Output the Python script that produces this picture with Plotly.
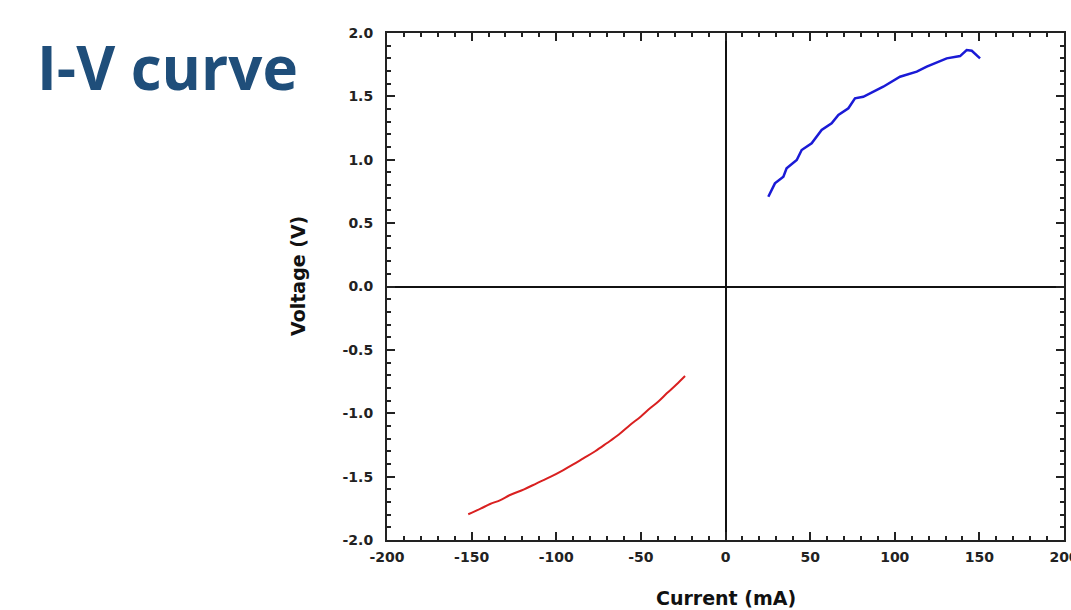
import plotly.graph_objects as go

# Data
pos_current = [25.3, 29.2, 34.2, 36.1, 42.1, 45.0, 50.9, 56.8, 62.7, 66.7, 72.6, 76.5, 81.4,
               93.2, 103.1, 113.0, 118.9, 130.7, 138.6, 142.5, 145.5, 150.4]
pos_voltage = [0.708, 0.814, 0.866, 0.932, 0.998, 1.077, 1.13, 1.235, 1.288, 1.353, 1.406, 1.485, 1.497,
               1.576, 1.655, 1.695, 1.734, 1.80, 1.818, 1.866, 1.86, 1.80]

neg_current = [-152.0, -145.0, -139.1, -133.0, -127.3, -119.0, -111.6, -103.5, -95.8, -90.0,
               -84.0, -77.0, -70.2, -63.0, -56.4, -50.0, -44.6, -39.5, -34.7, -29.0, -23.9]
neg_voltage = [-1.797, -1.755, -1.716, -1.685, -1.645, -1.600, -1.553, -1.502, -1.448, -1.404,
               -1.356, -1.300, -1.237, -1.168, -1.093, -1.025, -0.961, -0.905, -0.843, -0.773, -0.706]

x_tickvals = [-200, -150, -100, -50, 0, 50, 100, 150, 200]
x_ticktext = ["-200", "-150", "-100", "-50", "0", "50", "100", "150", "200"]
y_tickvals = [-2.0, -1.5, -1.0, -0.5, 0.0, 0.5, 1.0, 1.5, 2.0]
y_ticktext = ["-2.0", "-1.5", "-1.0", "-0.5", "0.0", "0.5", "1.0", "1.5", "2.0"]

fig = go.Figure()
fig.add_trace(go.Scatter(x=pos_current, y=pos_voltage, mode="lines",
                         line=dict(color="#1a1ad6", width=2.5), showlegend=False))
fig.add_trace(go.Scatter(x=neg_current, y=neg_voltage, mode="lines", line_shape="spline",
                         line=dict(color="#d92020", width=2), showlegend=False))

tickfont = dict(family="DejaVu Sans", size=14, color="#222222")

fig.update_xaxes(range=[-200, 200], tickvals=x_tickvals,
                 ticktext=["<b>%s</b>" % t for t in x_ticktext],
                 ticks="inside", ticklen=8, tickwidth=2, tickcolor="#222",
                 minor=dict(ticks="inside", dtick=10, ticklen=4, tickwidth=1.5, tickcolor="#222"),
                 showline=True, linecolor="#222", linewidth=2, mirror="allticks",
                 showgrid=False, zeroline=True, zerolinecolor="#111", zerolinewidth=2,
                 tickfont=tickfont, ticklabeloverflow="allow", ticklabelstandoff=3,
                 automargin=False, fixedrange=True)
fig.update_yaxes(range=[-2.0, 2.0], tickvals=y_tickvals,
                 ticktext=["<b>%s</b>" % t for t in y_ticktext],
                 ticks="inside", ticklen=8, tickwidth=2, tickcolor="#222",
                 minor=dict(ticks="inside", dtick=0.1, ticklen=4, tickwidth=1.5, tickcolor="#222"),
                 showline=True, linecolor="#222", linewidth=2, mirror="allticks",
                 showgrid=False, zeroline=True, zerolinecolor="#111", zerolinewidth=2,
                 tickfont=tickfont, ticklabelstandoff=9, automargin=False, fixedrange=True)

fig.update_layout(
    width=1071, height=610,
    margin=dict(l=387, r=7, t=33, b=70, autoexpand=False),
    paper_bgcolor="white", plot_bgcolor="white",
    annotations=[
        dict(text="<b>I-V curve</b>", xref="paper", yref="paper",
             x=(35 - 387) / 677, y=1 + (36 - 70) / 507, xanchor="left", yanchor="middle",
             showarrow=False, font=dict(family="Open Sans", size=60, color="#1f4e7a")),
        dict(text="<b>Voltage (V)</b>", xref="paper", yref="paper",
             x=(298 - 387) / 677, y=(540 - 276) / 507, xanchor="center", yanchor="middle",
             textangle=-90, showarrow=False,
             font=dict(family="DejaVu Sans", size=19, color="#111")),
        dict(text="<b>Current (mA)</b>", xref="paper", yref="paper",
             x=0.5, y=-(598 - 540) / 507, xanchor="center", yanchor="middle",
             showarrow=False, font=dict(family="DejaVu Sans", size=19, color="#111")),
    ],
)

fig.write_html("out.html")
